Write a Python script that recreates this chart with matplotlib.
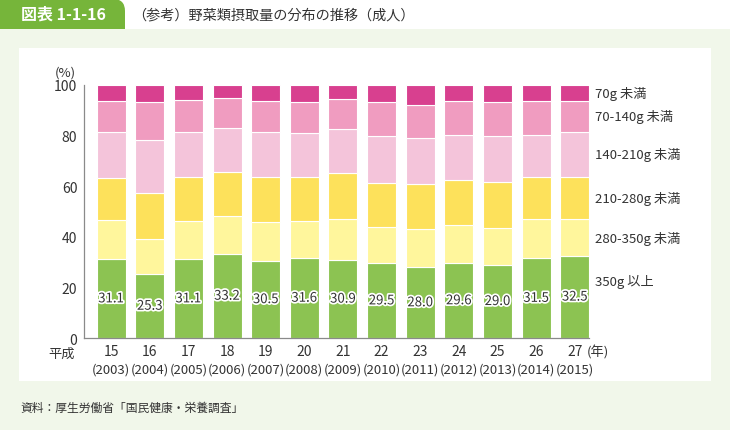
import matplotlib

matplotlib.use('Agg')

import matplotlib.pyplot as plt
import matplotlib.patheffects as pe
import numpy as np
from matplotlib.patches import FancyBboxPatch, Rectangle


plt.rcParams['font.family'] = ['Noto Sans CJK JP', 'DejaVu Sans']

# 平成年 / 西暦年
YEARS_HEISEI = ['15', '16', '17', '18', '19', '20', '21',
                '22', '23', '24', '25', '26', '27']
YEARS_AD = ['2003', '2004', '2005', '2006', '2007', '2008', '2009',
            '2010', '2011', '2012', '2013', '2014', '2015']

# categories, bottom to top
CATEGORIES = ['350g 以上', '280-350g 未満', '210-280g 未満',
              '140-210g 未満', '70-140g 未満', '70g 未満']

G350_OVER = [31.1, 25.3, 31.1, 33.2, 30.5, 31.6, 30.9,
             29.5, 28.0, 29.6, 29.0, 31.5, 32.5]
G280_350 = [15.4, 13.8, 15.0, 15.0, 15.4, 14.5, 16.0,
            14.5, 15.0, 15.0, 14.6, 15.4, 14.4]
G210_280 = [16.8, 18.3, 17.6, 17.5, 17.7, 17.6, 18.4,
            17.3, 17.7, 17.8, 18.1, 16.8, 16.8]
G140_210 = [18.1, 20.6, 17.7, 17.3, 17.8, 17.3, 17.3,
            18.6, 18.3, 17.9, 18.0, 16.6, 17.6]
G70_140 = [12.3, 15.2, 12.6, 11.8, 12.3, 12.2, 11.7,
           13.3, 13.1, 13.4, 13.5, 13.1, 12.4]
G70_UNDER = [6.3, 6.8, 6.0, 5.2, 6.3, 6.8, 5.7,
             6.8, 7.9, 6.3, 6.8, 6.6, 6.3]

SERIES = [G350_OVER, G280_350, G210_280, G140_210, G70_140, G70_UNDER]
COLORS = ['#8cc352', '#fff69c', '#fde15b', '#f4c4da', '#f09cc0', '#d8408f']

TEXT_COLOR = '#333333'
BG_GREEN = '#f1f7ea'
TAB_GREEN = '#76b53a'
PX = 0.72  # points per pixel at dpi 100


def draw_frame(fig):
    # light green page background below the header
    fig.patches.append(Rectangle((0, 0), 7.3, 4.01, transform=fig.dpi_scale_trans,
                                 facecolor=BG_GREEN, edgecolor='none', zorder=-3))
    # header tab with rounded top-right corner
    fig.patches.append(FancyBboxPatch((-0.3, 3.8), 1.55, 0.51,
                                      boxstyle='round,pad=0,rounding_size=0.12',
                                      transform=fig.dpi_scale_trans,
                                      facecolor=TAB_GREEN, edgecolor='none', zorder=-4))
    # white chart panel
    fig.patches.append(Rectangle((0.19, 0.49), 6.92, 3.33, transform=fig.dpi_scale_trans,
                                 facecolor='white', edgecolor='none', zorder=-2))

    fig.text(21 / 730, 1 - 15 / 431, '図表 1-1-16', color='white', fontsize=11.5,
             fontweight='bold', ha='left', va='center')
    fig.text(132 / 730, 1 - 15 / 431, '（参考）野菜類摂取量の分布の推移（成人）',
             color=TEXT_COLOR, fontsize=10.2, ha='left', va='center')
    fig.text(20 / 730, 1 - 408 / 431, '資料：厚生労働省「国民健康・栄養調査」',
             color=TEXT_COLOR, fontsize=8.5, ha='left', va='center')


def draw_bars(ax):
    x = np.arange(len(YEARS_HEISEI))
    bottom = np.zeros(len(x))
    for values, color in zip(SERIES, COLORS):
        ax.bar(x, values, bottom=bottom, width=0.75, color=color,
               edgecolor='white', linewidth=0.8)
        bottom += np.array(values)

    for xi, v in zip(x, G350_OVER):
        ax.text(xi, v / 2, f'{v:.1f}', ha='center', va='center', fontsize=9.5,
                color=TEXT_COLOR,
                path_effects=[pe.withStroke(linewidth=2.5, foreground='white')])

    # category labels beside the last bar
    last = [s[-1] for s in SERIES]
    tops = np.cumsum(last)
    for i, label in enumerate(CATEGORIES):
        if i == 0:
            y = tops[0] - 10
        else:
            y = tops[i] - last[i] / 2
        ax.annotate(label, xy=(1, y), xycoords=('axes fraction', 'data'),
                    xytext=(6 * PX, 0), textcoords='offset points',
                    ha='left', va='center', fontsize=9.5, color=TEXT_COLOR)


def style_axes(ax):
    n = len(YEARS_HEISEI)
    ax.set_xlim(-0.695, n - 1 + 0.375)
    ax.set_ylim(0, 100)
    ax.set_facecolor('none')

    for side in ['top', 'right']:
        ax.spines[side].set_visible(False)
    for side in ['left', 'bottom']:
        ax.spines[side].set_color('#8a8a8a')
        ax.spines[side].set_linewidth(0.9)

    ax.set_yticks([0, 20, 40, 60, 80, 100])
    ax.tick_params(axis='y', length=0, pad=5, labelsize=10, labelcolor=TEXT_COLOR)
    ax.set_yticks([100], minor=True)
    ax.tick_params(axis='y', which='minor', direction='in', length=3,
                   color='#8a8a8a', width=0.9)

    ax.set_xticks(np.arange(n))
    ax.set_xticklabels(YEARS_HEISEI)
    ax.tick_params(axis='x', length=0, pad=4, labelsize=10, labelcolor=TEXT_COLOR)

    for i, year in enumerate(YEARS_AD):
        ax.annotate(f'({year})', xy=(i, 0), xycoords=('data', 'axes fraction'),
                    xytext=(0, -31 * PX), textcoords='offset points',
                    ha='center', va='center', fontsize=9.5, color=TEXT_COLOR)

    ax.annotate('平成', xy=(0, 0), xycoords='axes fraction',
                xytext=(-23 * PX, -15 * PX), textcoords='offset points',
                ha='center', va='center', fontsize=9.5, color=TEXT_COLOR)
    ax.annotate('(年)', xy=(n - 1, 0), xycoords=('data', 'axes fraction'),
                xytext=(12 * PX, -13 * PX), textcoords='offset points',
                ha='left', va='center', fontsize=9.5, color=TEXT_COLOR)
    ax.annotate('(%)', xy=(0, 1), xycoords='axes fraction',
                xytext=(-19 * PX, 13 * PX), textcoords='offset points',
                ha='center', va='center', fontsize=9.5, color=TEXT_COLOR)


def main():
    fig = plt.figure(figsize=(7.3, 4.31), dpi=100, facecolor='white')
    draw_frame(fig)
    ax = fig.add_axes([84.3 / 730, 91.7 / 431, 505 / 730, 253.6 / 431])
    draw_bars(ax)
    style_axes(ax)
    fig.savefig('out.png', dpi=100, facecolor=fig.get_facecolor())
    plt.close(fig)


if __name__ == '__main__':
    main()
